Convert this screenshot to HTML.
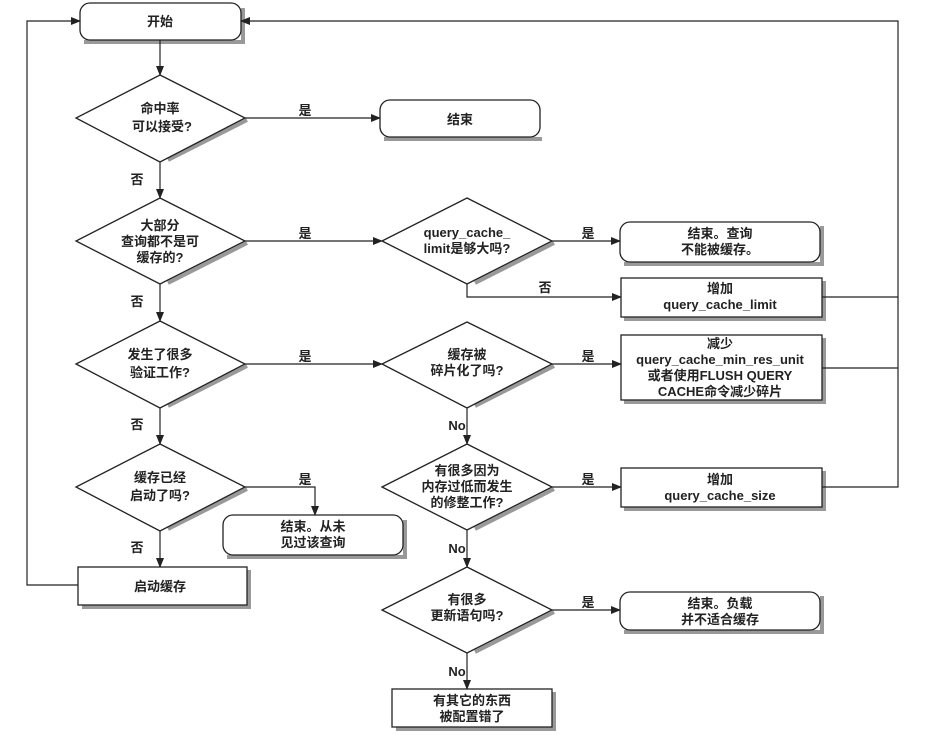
<!DOCTYPE html>
<html><head><meta charset="utf-8"><style>
html,body{margin:0;padding:0;background:#fff;}
svg text{font-family:"Liberation Sans","Noto Sans CJK SC",sans-serif;font-size:13px;font-weight:bold;fill:#222;text-anchor:middle;}
</style></head><body>
<svg width="927" height="738" viewBox="0 0 927 738" xmlns="http://www.w3.org/2000/svg">
<defs>
<marker id="a" markerWidth="10" markerHeight="8" refX="9" refY="4" orient="auto" markerUnits="userSpaceOnUse"><path d="M0,0 L10,4 L0,8 z" fill="#222"/></marker>
</defs>
<g fill="none" stroke="#999" stroke-width="4">
<!-- shadows -->
<path d="M84,42 H243 V8"/>
<path d="M168,160 L247,120"/><path d="M168,283 L247,243"/><path d="M168,406 L247,366"/><path d="M168,529 L247,489"/>
<path d="M475,283 L554,243"/><path d="M475,406 L554,366"/><path d="M475,529 L554,489"/><path d="M475,652 L554,612"/>
<path d="M384,139 H542"/><path d="M624,264 H822 V226"/><path d="M624,319 H824 V281"/><path d="M624,402 H824 V338"/>
<path d="M624,509 H824 V471"/><path d="M624,632 H822 V596"/><path d="M396,729 H554 V692"/><path d="M227,557 H405 V520"/><path d="M82,607 H249 V570"/>
</g>
<g fill="#fff" stroke="#222" stroke-width="1.3">
<rect x="80" y="3" width="161" height="37" rx="10"/>
<polygon points="160,75 245,118 160,162 76,118"/>
<polygon points="160,198 245,241 160,284 76,241"/>
<polygon points="160,321 245,364 160,408 76,364"/>
<polygon points="160,444 245,487 160,531 76,487"/>
<rect x="78" y="567" width="169" height="38"/>
<rect x="380" y="100" width="160" height="37" rx="10"/>
<polygon points="467,198 552,241 467,284 382,241"/>
<rect x="620" y="222" width="200" height="40" rx="10"/>
<rect x="621" y="278" width="201" height="39"/>
<polygon points="467,322 552,364 467,408 382,364"/>
<rect x="621" y="335" width="201" height="65"/>
<polygon points="467,444 552,487 467,530 382,487"/>
<rect x="621" y="468" width="201" height="39"/>
<polygon points="467,567 552,610 467,653 382,610"/>
<rect x="620" y="592" width="200" height="38" rx="10"/>
<rect x="392" y="689" width="160" height="38"/>
<rect x="223" y="515" width="180" height="40" rx="10"/>
</g>
<g fill="none" stroke="#222" stroke-width="1.2" marker-end="url(#a)">
<path d="M160,40 V75"/><path d="M160,162 V198"/><path d="M160,284 V321"/><path d="M160,408 V444"/><path d="M160,531 V567"/>
<path d="M78,585 H27 V21 H80"/>
<path d="M245,118 H380"/><path d="M245,241 H382"/><path d="M245,364 H382"/>
<path d="M245,487 H315 V515"/>
<path d="M552,241 H620"/><path d="M467,284 V297 H621"/><path d="M552,364 H621"/>
<path d="M467,408 V444"/><path d="M552,487 H621"/><path d="M467,530 V567"/><path d="M552,610 H620"/><path d="M467,653 V689"/>
<path d="M822,487 H898 V21 H241"/>
</g>
<g fill="none" stroke="#222" stroke-width="1.2"><path d="M822,297 H898"/><path d="M822,368 H898"/></g>
<text x="160" y="26">开始</text>
<text x="160" y="113">命中率</text><text x="162" y="131">可以接受?</text>
<text x="160" y="230">大部分</text><text x="160" y="246">查询都不是可</text><text x="160" y="262">缓存的?</text>
<text x="160" y="359">发生了很多</text><text x="160" y="377">验证工作?</text>
<text x="160" y="482">缓存已经</text><text x="160" y="500">启动了吗?</text>
<text x="160" y="591">启动缓存</text>
<text x="460" y="124">结束</text>
<text x="467" y="237">query_cache_</text><text x="467" y="253">limit是够大吗?</text>
<text x="720" y="238">结束。查询</text><text x="720" y="254">不能被缓存。</text>
<text x="720" y="293">增加</text><text x="720" y="309">query_cache_limit</text>
<text x="467" y="359">缓存被</text><text x="467" y="375">碎片化了吗?</text>
<text x="720" y="348">减少</text><text x="720" y="364">query_cache_min_res_unit</text><text x="720" y="380">或者使用FLUSH QUERY</text><text x="720" y="396">CACHE命令减少碎片</text>
<text x="467" y="475">有很多因为</text><text x="467" y="491">内存过低而发生</text><text x="467" y="507">的修整工作?</text>
<text x="720" y="484">增加</text><text x="720" y="500">query_cache_size</text>
<text x="467" y="604">有很多</text><text x="467" y="620">更新语句吗?</text>
<text x="720" y="608">结束。负载</text><text x="720" y="624">并不适合缓存</text>
<text x="472" y="705">有其它的东西</text><text x="472" y="721">被配置错了</text>
<text x="313" y="531">结束。从未</text><text x="313" y="547">见过该查询</text>
<g style="font-weight:normal">
<text x="305" y="115">是</text><text x="305" y="238">是</text><text x="305" y="361">是</text><text x="305" y="484">是</text>
<text x="137" y="184">否</text><text x="137" y="306">否</text><text x="137" y="429">否</text><text x="137" y="552">否</text>
<text x="588" y="238">是</text><text x="545" y="292">否</text><text x="588" y="361">是</text><text x="588" y="484">是</text><text x="588" y="607">是</text>
<text x="457" y="430">No</text><text x="457" y="553">No</text><text x="457" y="676">No</text>
</g>
</svg>
</body></html>
